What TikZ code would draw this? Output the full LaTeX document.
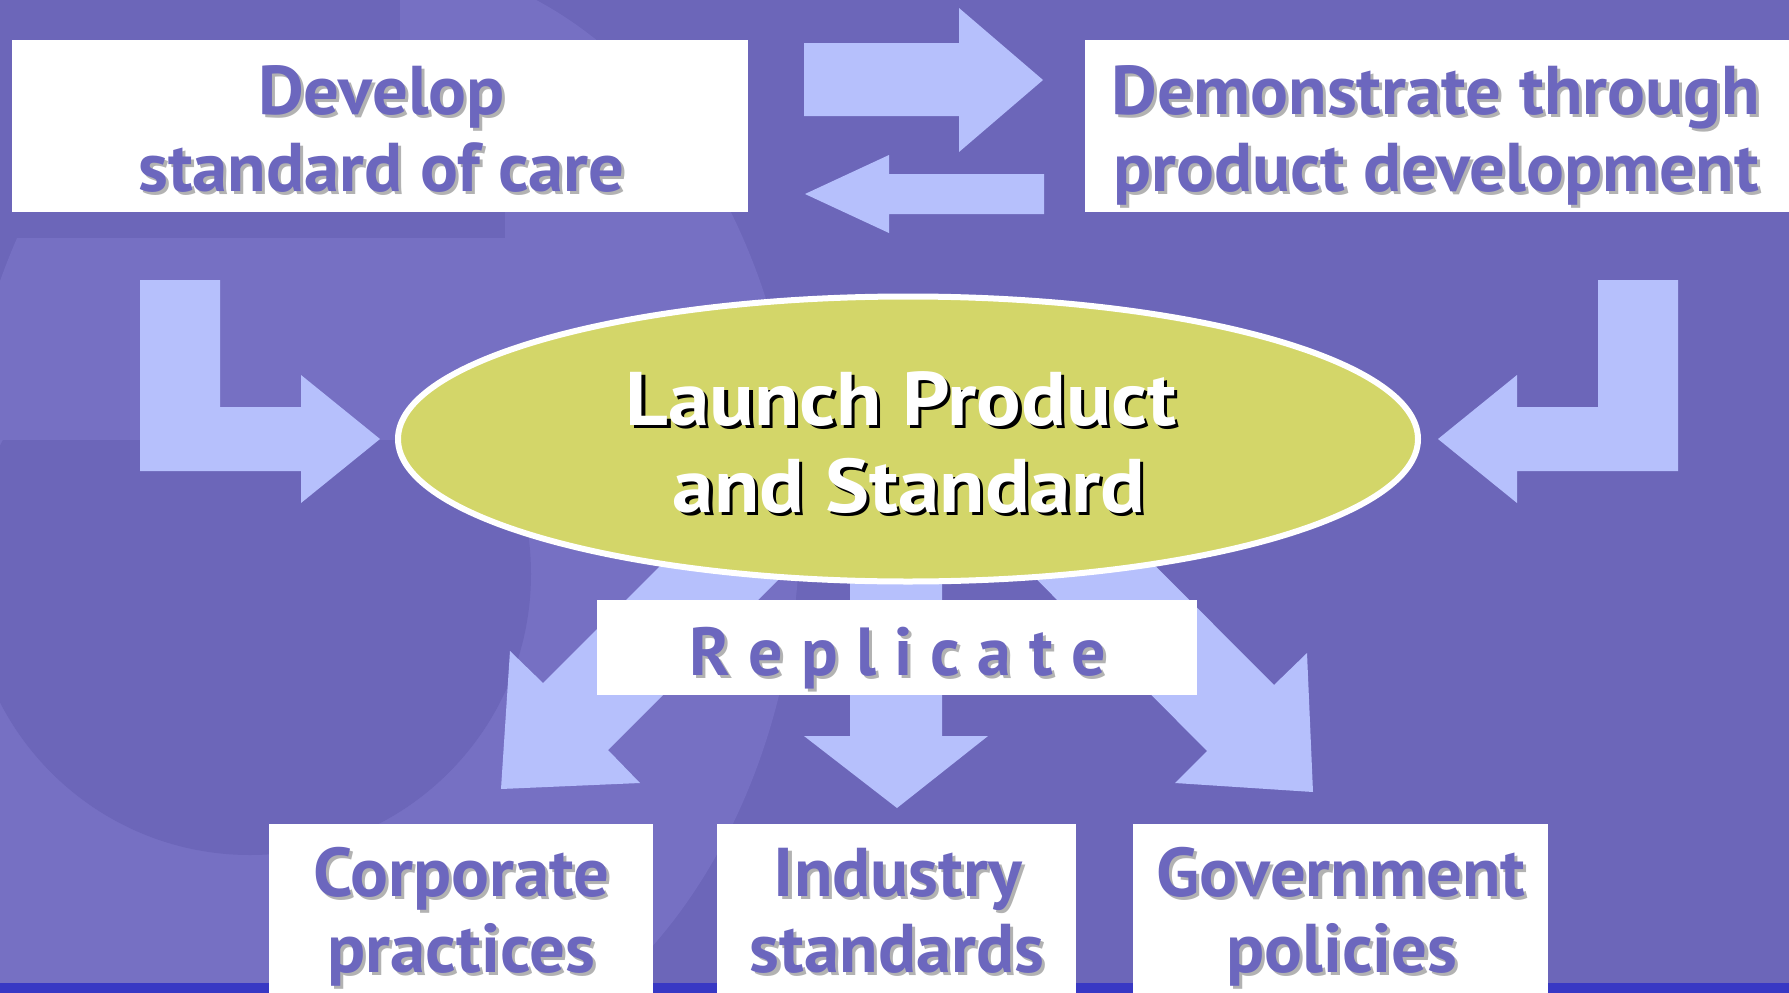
\documentclass[tikz,border=0pt]{standalone}
\usepackage{fontspec}
\setmainfont{PT Sans}
\usetikzlibrary{shapes.geometric}

\definecolor{bgpurple}{HTML}{6C66B9}
\definecolor{bglight}{HTML}{7670C3}
\definecolor{arrowblue}{HTML}{B6C0FC}
\definecolor{limefill}{HTML}{D3D669}
\definecolor{inkpurple}{HTML}{6C67BE}
\definecolor{inkshadow}{HTML}{B2B2B2}
\definecolor{baseband}{HTML}{3838C4}

% text with a small drop shadow below and to the right
\newcommand{\castshadow}[3]{\makebox[0pt][l]{\kern3pt\raisebox{-3pt}{\color{#2}#1}}{\color{#3}#1}}
\newcommand{\purpleplain}[1]{\castshadow{#1}{inkshadow}{inkpurple}}
\newcommand{\purpletext}[1]{\scalebox{1.025}[1]{\castshadow{#1}{inkshadow}{inkpurple}}}
\newcommand{\whitetext}[1]{\scalebox{1.095}[1]{\castshadow{#1}{black}{white}}}

\begin{document}
\begin{tikzpicture}[x=1pt,y=-1pt,
  card/.style={fill=white, draw=none, inner sep=0pt, outer sep=0pt, rectangle},
  cardline/.style={anchor=base, inner sep=0pt, font=\bfseries\fontsize{69}{78}\selectfont},
  bigline/.style={anchor=base, inner sep=0pt, font=\bfseries\fontsize{76}{90}\selectfont},
  repline/.style={anchor=base, inner sep=0pt, font=\bfseries\fontsize{68}{80}\selectfont},
  blockarrow/.style={fill=arrowblue, draw=none},
]
\useasboundingbox (0,0) rectangle (1789,993);

% backdrop with faint template shapes
\fill[bgpurple] (0,0) rectangle (1789,993);
\fill[bglight] (380,520) ellipse [x radius=420, y radius=560];
\fill[bglight] (0,700) rectangle (500,993);
\fill[bgpurple] (0,0) rectangle (400,238);
\fill[bgpurple] (400,212) rectangle (505,238);
\begin{scope}
  \clip (0,440) rectangle (1789,993);
  \fill[bgpurple] (250,574) circle (281);
\end{scope}
\fill[baseband] (0,983) rectangle (1789,993);

% arrows fanning out from the centre
\fill[blockarrow] (760,466) -- (543,683) -- (510,651) -- (501,789) -- (640,783) -- (608,750) -- (826,532) -- cycle;
\fill[blockarrow] (850,560) -- (850,736) -- (804,736) -- (897,808) -- (988,736) -- (942,736) -- (942,560) -- cycle;
\fill[blockarrow] (958,500) -- (1207,751) -- (1175,783) -- (1313,792) -- (1307,653) -- (1274,685) -- (1024,434) -- cycle;

% central ellipse
\node[ellipse, fill=limefill, draw=white, line width=6pt, minimum width=1020pt, minimum height=285pt, inner sep=0pt] (launch) at (908,439) {};
\node[bigline] (launch1) at (901,425) {\whitetext{Launch Product}};
\node[bigline] (launch2) at (909,512) {\whitetext{and Standard}};

% replicate label
\node[card, minimum width=600pt, minimum height=95pt] (replicate) at (897,647.5) {};
\node[repline] (replicatetxt) at (898,675) {\purpleplain{R\hspace{0.265em}e\hspace{0.265em}p\hspace{0.265em}l\hspace{0.265em}i\hspace{0.265em}c\hspace{0.265em}a\hspace{0.265em}t\hspace{0.265em}e}};

% top cards
\node[card, minimum width=736pt, minimum height=172pt] (develop) at (380,126) {};
\node[cardline] (develop1) at (381.5,114) {\purpletext{Develop}};
\node[cardline] (develop2) at (381.5,191) {\purpletext{standard of care}};

\node[card, minimum width=704pt, minimum height=172pt] (demo) at (1437,126) {};
\node[cardline] (demo1) at (1436,114) {\purpletext{Demonstrate through}};
\node[cardline] (demo2) at (1436,191) {\purpletext{product development}};

% bottom cards
\node[card, minimum width=384pt, minimum height=170pt] (corp) at (461,909) {};
\node[cardline] (corp1) at (461.5,896) {\purpletext{Corporate}};
\node[cardline] (corp2) at (461.5,972) {\purpletext{practices}};

\node[card, minimum width=359pt, minimum height=170pt] (industry) at (896.5,909) {};
\node[cardline] (industry1) at (898,896) {\purpletext{Industry}};
\node[cardline] (industry2) at (897,972) {\purpletext{standards}};

\node[card, minimum width=415pt, minimum height=170pt] (gov) at (1340.5,909) {};
\node[cardline] (gov1) at (1341,896) {\purpletext{Government}};
\node[cardline] (gov2) at (1342,972) {\purpletext{policies}};

% exchange arrows between the top cards
\fill[blockarrow] (804,43) -- (959,43) -- (959,8) -- (1043,80) -- (959,152) -- (959,116) -- (804,116) -- cycle;
\fill[blockarrow] (1044,174) -- (889,174) -- (889,155) -- (805,194) -- (889,233) -- (889,214) -- (1044,214) -- cycle;

% bent arrows into the ellipse
\fill[blockarrow] (140,280) -- (220,280) -- (220,407) -- (301,407) -- (301,375) -- (380,439) -- (301,503) -- (301,471) -- (140,471) -- cycle;
\fill[blockarrow] (1678,280) -- (1598,280) -- (1598,407) -- (1517,407) -- (1517,375) -- (1438,439) -- (1517,503) -- (1517,471) -- (1678,471) -- cycle;
\end{tikzpicture}
\end{document}
